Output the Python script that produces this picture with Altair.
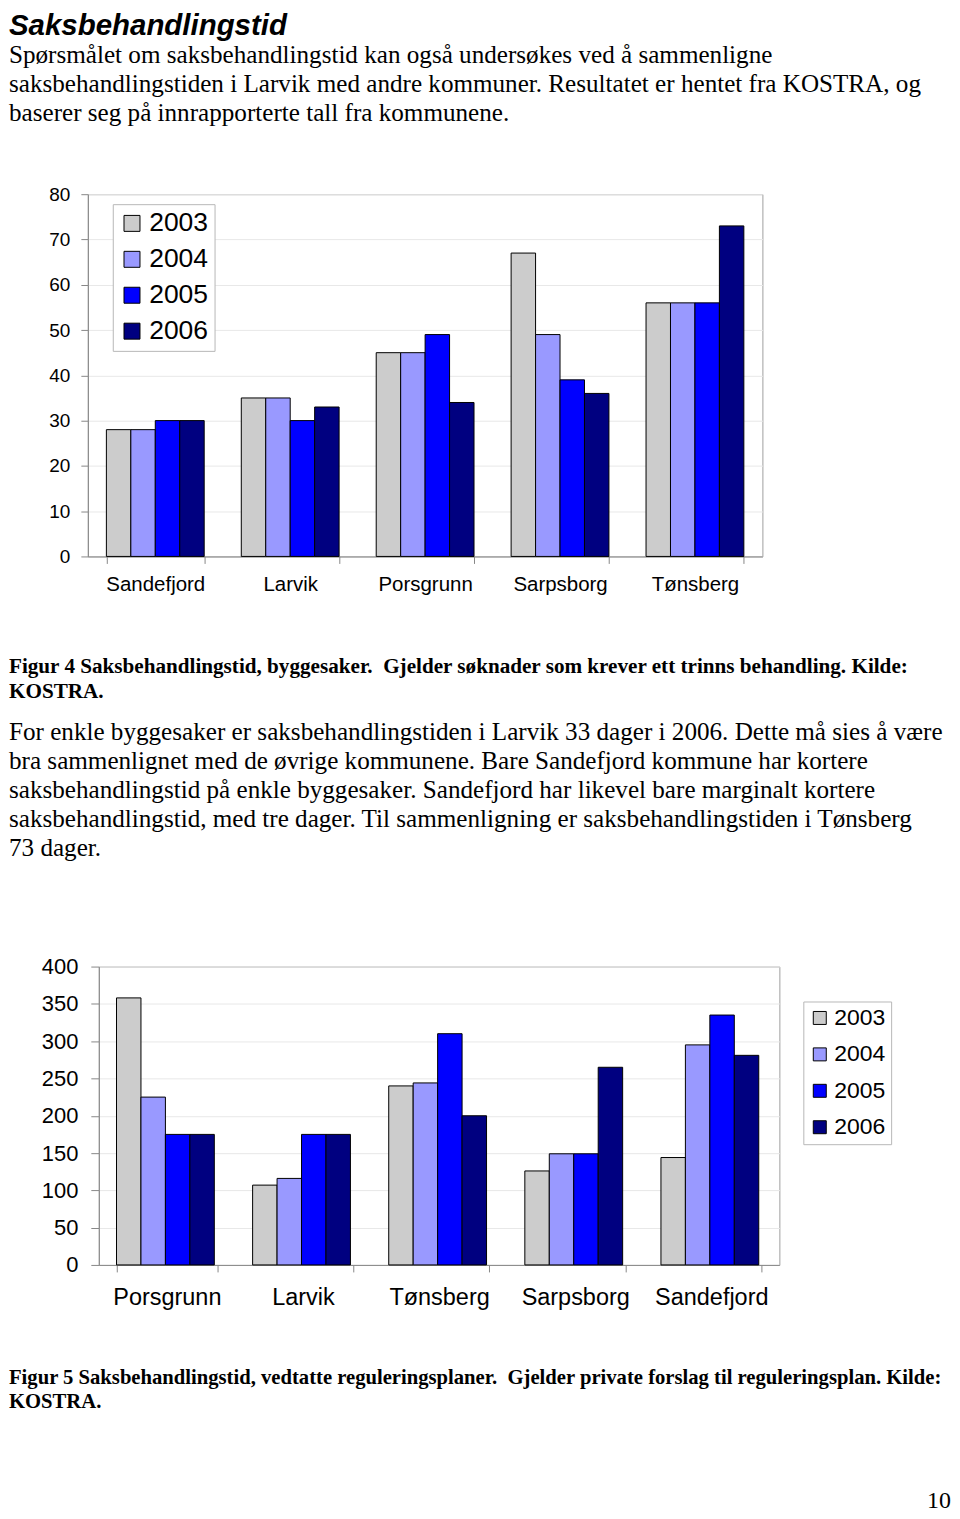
import altair as alt
import pandas as pd

# ---------------- data ----------------
years = ["2003", "2004", "2005", "2006"]
year_colors = ["#CCCCCC", "#9999FF", "#0000FF", "#000080"]

fig4_kommuner = ["Sandefjord", "Larvik", "Porsgrunn", "Sarpsborg", "Tønsberg"]
fig4_2003 = [28, 35, 45, 67, 56]
fig4_2004 = [28, 35, 45, 49, 56]
fig4_2005 = [30, 30, 49, 39, 56]
fig4_2006 = [30, 33, 34, 36, 73]
fig4_ticks = [0, 10, 20, 30, 40, 50, 60, 70, 80]

fig5_kommuner = ["Porsgrunn", "Larvik", "Tønsberg", "Sarpsborg", "Sandefjord"]
fig5_2003 = [358, 107, 240, 126, 144]
fig5_2004 = [225, 116, 244, 149, 295]
fig5_2005 = [175, 175, 310, 149, 335]
fig5_2006 = [175, 175, 200, 265, 281]
fig5_ticks = [0, 50, 100, 150, 200, 250, 300, 350, 400]

title_text = "Saksbehandlingstid"
intro_lines = [
    "Spørsmålet om saksbehandlingstid kan også undersøkes ved å sammenligne",
    "saksbehandlingstiden i Larvik med andre kommuner. Resultatet er hentet fra KOSTRA, og",
    "baserer seg på innrapporterte tall fra kommunene.",
]
fig4_caption = [
    "Figur 4 Saksbehandlingstid, byggesaker.\u00a0 Gjelder søknader som krever ett trinns behandling. Kilde:",
    "KOSTRA.",
]
body_lines = [
    "For enkle byggesaker er saksbehandlingstiden i Larvik 33 dager i 2006. Dette må sies å være",
    "bra sammenlignet med de øvrige kommunene. Bare Sandefjord kommune har kortere",
    "saksbehandlingstid på enkle byggesaker. Sandefjord har likevel bare marginalt kortere",
    "saksbehandlingstid, med tre dager. Til sammenligning er saksbehandlingstiden i Tønsberg",
    "73 dager.",
]
fig5_caption = [
    "Figur 5 Saksbehandlingstid, vedtatte reguleringsplaner.\u00a0 Gjelder private forslag til reguleringsplan. Kilde:",
    "KOSTRA.",
]
page_number = "10"

SANS = "Liberation Sans, Arial, sans-serif"
SERIF = "Liberation Serif, Times New Roman, serif"
PAGE_W = 944
MARGIN = 8


def long_df(kommuner, series):
    rows = []
    for yr, vals in zip(years, series):
        for k, v in zip(kommuner, vals):
            rows.append({"kommune": k, "year": yr, "value": v})
    return pd.DataFrame(rows)


def bar_chart(kommuner, series, ticks, w, h, pad_in, x_font, x_lpad, y_font, y_lpad, y_tick,
              lg_x, lg_y, lg_font, lg_sym, lg_pad, lg_row, lg_off):
    df = long_df(kommuner, series)
    return alt.Chart(df).mark_bar(stroke="black", strokeWidth=1).encode(
        x=alt.X("kommune:N", sort=kommuner, title=None,
                scale=alt.Scale(paddingInner=pad_in, paddingOuter=pad_in / 2),
                axis=alt.Axis(labelAngle=0, tickBand="extent", tickSize=7,
                              labelPadding=x_lpad, labelFont=SANS, labelFontSize=x_font,
                              labelColor="black", domainColor="#888888", tickColor="#888888",
                              grid=False)),
        xOffset=alt.XOffset("year:N", sort=years, scale=alt.Scale(paddingInner=0, paddingOuter=0)),
        y=alt.Y("value:Q", title=None,
                scale=alt.Scale(domain=[ticks[0], ticks[-1]], nice=False),
                axis=alt.Axis(values=ticks, tickSize=y_tick, labelPadding=y_lpad, labelFont=SANS,
                              labelFontSize=y_font, labelColor="black", domainColor="#888888",
                              tickColor="#888888", grid=True, gridColor="#E8E8E8")),
        color=alt.Color("year:N", title=None,
                        scale=alt.Scale(domain=years, range=year_colors),
                        legend=alt.Legend(orient="none", legendX=lg_x, legendY=lg_y,
                                          direction="vertical", symbolType="square",
                                          symbolSize=lg_sym, symbolStrokeColor="black",
                                          symbolStrokeWidth=1, labelFont=SANS,
                                          labelFontSize=lg_font, labelColor="black",
                                          labelOffset=lg_off, padding=lg_pad,
                                          rowPadding=lg_row, fillColor="white",
                                          strokeColor="#B8B8B8")),
    ).properties(width=w, height=h,
                 view=alt.ViewBackground(stroke="#A0A0A0", strokeWidth=1))


def text_block(w, h, items):
    layers = []
    for txt, x, y, font, size, weight, style, align in items:
        layers.append(
            alt.Chart(pd.DataFrame({"t": [txt]})).mark_text(
                align=align, baseline="alphabetic", font=font, fontSize=size,
                fontWeight=weight, fontStyle=style, color="black"
            ).encode(text="t:N", x=alt.value(x), y=alt.value(y))
        )
    return alt.layer(*layers).properties(width=w, height=h)


def spacer(w, h):
    return alt.Chart(pd.DataFrame({"t": [""]})).mark_text().encode(
        text="t:N", x=alt.value(0), y=alt.value(0)).properties(width=w, height=h)


BODY = 25.2
LINE = 29

# page positions (px from top of page) of the two plot areas
C4_TOP, C4_H, C4_LEFT, C4_W = 191, 363, 87, 676
C5_TOP, C5_H, C5_LEFT, C5_W = 965, 299, 98, 682

# header row: page y = MARGIN + row y
H1 = C4_TOP - MARGIN
header_items = [(title_text, 0, 23, SANS, 29.5, "bold", "italic", "left")]
for i, ln in enumerate(intro_lines):
    header_items.append((ln, 0, 52 + i * LINE, SERIF, BODY, "normal", "normal", "left"))
header = text_block(PAGE_W, H1, header_items)

# figure 4 row (a nested concat takes no height in a flush layout)
chart4 = bar_chart(fig4_kommuner, [fig4_2003, fig4_2004, fig4_2005, fig4_2006], fig4_ticks,
                   C4_W, C4_H, 0.275, 20.5, 11, 19, 11, 7,
                   25, 10, 26.5, 256, 6, 9, 4)
row4 = alt.hconcat(spacer(C4_LEFT - MARGIN, C4_H), chart4, spacing=0,
                   bounds="flush").resolve_scale(color="independent")

# middle text row: starts at page y = C4_TOP
mid_items = []
for i, ln in enumerate(fig4_caption):
    mid_items.append((ln, 0, 671 - C4_TOP + i * 25, SERIF, 21.2, "bold", "normal", "left"))
for i, ln in enumerate(body_lines):
    mid_items.append((ln, 0, 738 - C4_TOP + i * LINE, SERIF, BODY, "normal", "normal", "left"))
middle = text_block(PAGE_W, C5_TOP - C4_TOP, mid_items)

# figure 5 row
chart5 = bar_chart(fig5_kommuner, [fig5_2003, fig5_2004, fig5_2005, fig5_2006], fig5_ticks,
                   C5_W, C5_H, 0.26, 23.5, 14, 22, 13, 8,
                   706, 35, 23, 169, 5, 12.5, 3)
row5 = alt.hconcat(spacer(C5_LEFT - MARGIN, C5_H), chart5, spacing=0,
                   bounds="flush").resolve_scale(color="independent")

# footer row: starts at page y = C5_TOP
foot_items = []
for i, ln in enumerate(fig5_caption):
    foot_items.append((ln, 0, 1383 - C5_TOP + i * 24, SERIF, 20.7, "bold", "normal", "left"))
foot_items.append((page_number, PAGE_W, 1508 - C5_TOP, SERIF, 24, "normal", "normal", "right"))
footer = text_block(PAGE_W, 1500 - C5_TOP, foot_items)

chart = alt.vconcat(header, row4, middle, row5, footer, spacing=0, bounds="flush").properties(
    padding=0
).resolve_scale(color="independent").configure_view(stroke="transparent")

chart.save("out.html", embed_options={"renderer": "svg", "actions": False})
